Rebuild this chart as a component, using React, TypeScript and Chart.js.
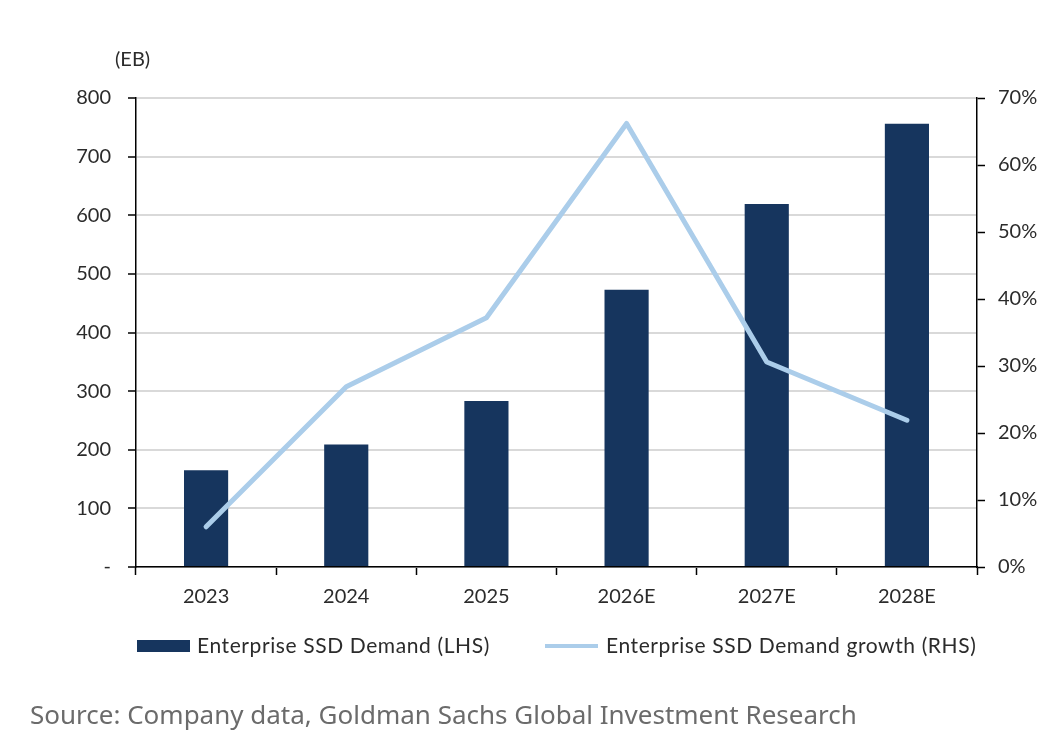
import React, { useEffect, useRef } from 'react';
import { Chart, registerables } from 'chart.js';

Chart.register(...registerables);

const years = ['2023', '2024', '2025', '2026E', '2027E', '2028E'];
const demandEB = [165, 209, 283, 473, 619, 756];
const growthPct = [6.0, 26.9, 37.2, 66.2, 30.6, 21.9];
const leftTicks = [0, 100, 200, 300, 400, 500, 600, 700, 800];
const rightTicks = [0, 10, 20, 30, 40, 50, 60, 70];

const BAR_COLOR = '#16355e';
const LINE_COLOR = '#abcdea';
const TEXT_COLOR = '#2b2b2b';
const FONT = 'Lato, "Noto Sans", sans-serif';

// draws "(EB)" and the legend under the x axis
const extrasPlugin = {
  id: 'extras',
  afterDraw(chart: Chart) {
    const { ctx, chartArea } = chart;
    ctx.save();
    ctx.font = `20px ${FONT}`;
    ctx.fillStyle = TEXT_COLOR;
    ctx.textBaseline = 'middle';
    ctx.textAlign = 'left';
    ctx.fillText('(EB)', chartArea.left - 21, 60);

    const y = chartArea.bottom + 79;
    const bar = chart.data.datasets[0];
    const line = chart.data.datasets[1];
    ctx.font = `21px ${FONT}`;
    (ctx as any).letterSpacing = '0.6px';

    ctx.fillStyle = BAR_COLOR;
    ctx.fillRect(chartArea.left + 1, y - 6, 53, 12);
    ctx.fillStyle = TEXT_COLOR;
    ctx.fillText(String(bar.label), chartArea.left + 61, y);

    const lx = chartArea.left + 409;
    ctx.strokeStyle = LINE_COLOR;
    ctx.lineWidth = 4;
    ctx.beginPath();
    ctx.moveTo(lx, y);
    ctx.lineTo(lx + 53, y);
    ctx.stroke();
    ctx.fillText(String(line.label), lx + 61, y);
    ctx.restore();
  },
};

const DemandChart: React.FC = () => {
  const chartRef = useRef<HTMLCanvasElement | null>(null);

  useEffect(() => {
    let chartInstance: Chart | null = null;
    if (chartRef.current) {
      chartInstance = new Chart(chartRef.current, {
        type: 'bar',
        data: {
          labels: years,
          datasets: [
            {
              type: 'bar',
              label: 'Enterprise SSD Demand (LHS)',
              data: demandEB,
              backgroundColor: BAR_COLOR,
              yAxisID: 'y',
              order: 1,
              categoryPercentage: 1,
              barPercentage: 0.315,
            },
            {
              type: 'line',
              label: 'Enterprise SSD Demand growth (RHS)',
              data: growthPct,
              borderColor: LINE_COLOR,
              borderWidth: 5,
              borderCapStyle: 'round',
              borderJoinStyle: 'round',
              pointRadius: 0,
              tension: 0,
              yAxisID: 'y1',
              order: 0,
            },
          ],
        },
        options: {
          animation: false,
          responsive: false,
          devicePixelRatio: 1,
          layout: { padding: { top: 98, left: 0, right: 0, bottom: 0 } },
          plugins: {
            legend: { display: false },
            tooltip: { enabled: false },
          },
          scales: {
            x: {
              grid: {
                display: true,
                drawOnChartArea: false,
                drawTicks: true,
                tickLength: 8,
                tickColor: '#000',
                tickWidth: 1.5,
              },
              border: { color: '#000', width: 1.5 },
              ticks: {
                color: TEXT_COLOR,
                font: { family: FONT, size: 20 },
                padding: 10,
              },
              afterFit(scale: any) {
                scale.height = 175;
              },
            },
            y: {
              position: 'left',
              min: 0,
              max: 800,
              afterBuildTicks(scale: any) {
                scale.ticks = leftTicks.map((v) => ({ value: v }));
              },
              grid: {
                color: '#d9d9d9',
                lineWidth: 2,
                tickLength: 8,
                tickColor: '#000',
                tickWidth: 1.5,
              },
              border: { color: '#000', width: 1.5 },
              ticks: {
                color: TEXT_COLOR,
                font: { family: FONT, size: 20 },
                padding: 17,
                callback: (v: any) => (Number(v) === 0 ? '-' : String(v)),
              },
              afterFit(scale: any) {
                scale.width = 136;
              },
            },
            y1: {
              position: 'right',
              min: 0,
              max: 70,
              afterBuildTicks(scale: any) {
                scale.ticks = rightTicks.map((v) => ({ value: v }));
              },
              grid: {
                drawOnChartArea: false,
                tickLength: 8,
                tickColor: '#000',
                tickWidth: 1.5,
              },
              border: { color: '#000', width: 1.5 },
              ticks: {
                color: TEXT_COLOR,
                font: { family: FONT, size: 20 },
                padding: 13,
                callback: (v: any) => `${v}%`,
              },
              afterFit(scale: any) {
                scale.width = 75;
              },
            },
          },
        },
        plugins: [extrasPlugin],
      });
    }
    return () => {
      if (chartInstance) {
        chartInstance.destroy();
      }
    };
  }, []);

  return <canvas ref={chartRef} width={1052} height={742}></canvas>;
};

export default function App() {
  return (
    <div
      style={{
        position: 'fixed',
        left: 0,
        top: 0,
        width: 1052,
        height: 742,
        background: '#fff',
      }}
    >
      <DemandChart />
      <div
        style={{
          position: 'absolute',
          left: 30,
          top: 697,
          fontFamily: '"Noto Sans", sans-serif',
          fontSize: 26,
          color: '#6b6b6b',
          lineHeight: '34px',
          whiteSpace: 'nowrap',
        }}
      >
        Source: Company data, Goldman Sachs Global Investment Research
      </div>
    </div>
  );
}
